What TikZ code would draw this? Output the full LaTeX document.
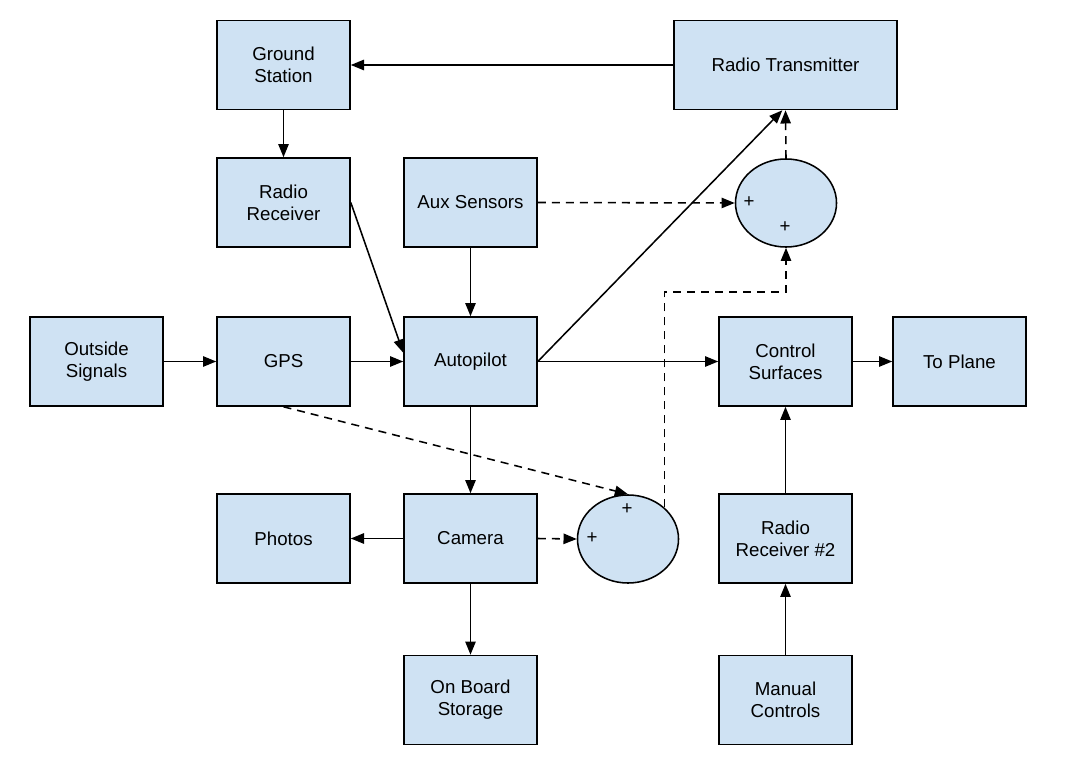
\documentclass[tikz,border=0pt]{standalone}
\usepackage{fontspec}
\setmainfont{Liberation Sans}
\usepackage{tikz}
\usetikzlibrary{shapes.geometric}
\usetikzlibrary{arrows.meta}
\usetikzlibrary{calc}
\definecolor{boxblue}{HTML}{CFE2F3}

\begin{document}
\begin{tikzpicture}[x=0.025cm, y=-0.025cm,
  blk/.style={draw, fill=boxblue, line width=1.1pt, minimum width=3.325cm, minimum height=2.225cm,
    align=center, inner sep=2pt, font=\fontsize{13.3}{15.5}\selectfont},
  oval/.style={draw, fill=boxblue, ellipse, line width=1.1pt, minimum width=2.525cm, minimum height=2.2cm, inner sep=0pt},
  plus/.style={inner sep=0pt, font=\fontsize{13.3}{15.5}\selectfont},
  arr/.style={-{Triangle[length=3.3mm, width=2.6mm]}, line width=1.1pt},
  darr/.style={arr, dash pattern=on 2mm off 1.5mm}]
  \useasboundingbox (0,0) rectangle (1069,773);
  % top row
  \node[blk] (gnd) at (283.5,65) {Ground\\Station};
  \node[blk, minimum width=5.575cm] (rtx) at (785.5,65) {Radio Transmitter};
  % second row
  \node[blk] (rrx) at (283.5,202.5) {Radio\\Receiver};
  \node[blk] (aux) at (470.5,202.5) {Aux Sensors};
  \node[oval] (sumtop) at (786,203) {};
  \node[plus] at (749,202) {+};
  \node[plus] at (785,227) {+};
  % middle row
  \node[blk] (out) at (96.5,361.5) {Outside\\Signals};
  \node[blk] (gps) at (283.5,361.5) {GPS};
  \node[blk] (ap) at (470.5,361.5) {Autopilot};
  \node[blk] (cs) at (785.5,361.5) {Control\\Surfaces};
  \node[blk] (plane) at (959.5,361.5) {To Plane};
  % fourth row
  \node[blk] (photos) at (283.5,538.5) {Photos};
  \node[blk] (cam) at (470.5,538.5) {Camera};
  \node[oval] (sumbot) at (628,539) {};
  \node[plus] at (627,509) {+};
  \node[plus] at (592,538) {+};
  \node[blk] (rrx2) at (785.5,538.5) {Radio\\Receiver \#2};
  % bottom row
  \node[blk] (store) at (470.5,700) {On Board\\Storage};
  \node[blk] (man) at (785.5,700) {Manual\\Controls};
  \coordinate (bend) at (700,292);

  \draw[arr] (rtx.west) -- (gnd.east);
  \draw[arr] (gnd.south) -- (rrx.north);
  \draw[arr] (rrx.east) -- ([yshift=2.2mm]ap.west);
  \draw[arr] (aux.south) -- (ap.north);
  \draw[darr] (aux.east) -- (sumtop.west);
  \draw[arr] (ap.east) -- ([xshift=-0.8mm]rtx.south);
  \draw[darr] (sumtop.north) -- (rtx.south);
  \draw[arr] (out.east) -- (gps.west);
  \draw[arr] (gps.east) -- (ap.west);
  \draw[arr] (ap.east) -- (cs.west);
  \draw[arr] (cs.east) -- (plane.west);
  \draw[arr] (ap.south) -- (cam.north);
  \draw[arr] (cam.west) -- (photos.east);
  \draw[darr] (cam.east) -- (sumbot.west);
  \draw[arr] (cam.south) -- (store.north);
  \draw[darr] (gps.south) -- (sumbot.north);
  \draw[darr] (sumbot.north east) |- (bend) -| (sumtop.south);
  \draw[arr] (rrx2.north) -- (cs.south);
  \draw[arr] (man.north) -- (rrx2.south);
\end{tikzpicture}
\end{document}
